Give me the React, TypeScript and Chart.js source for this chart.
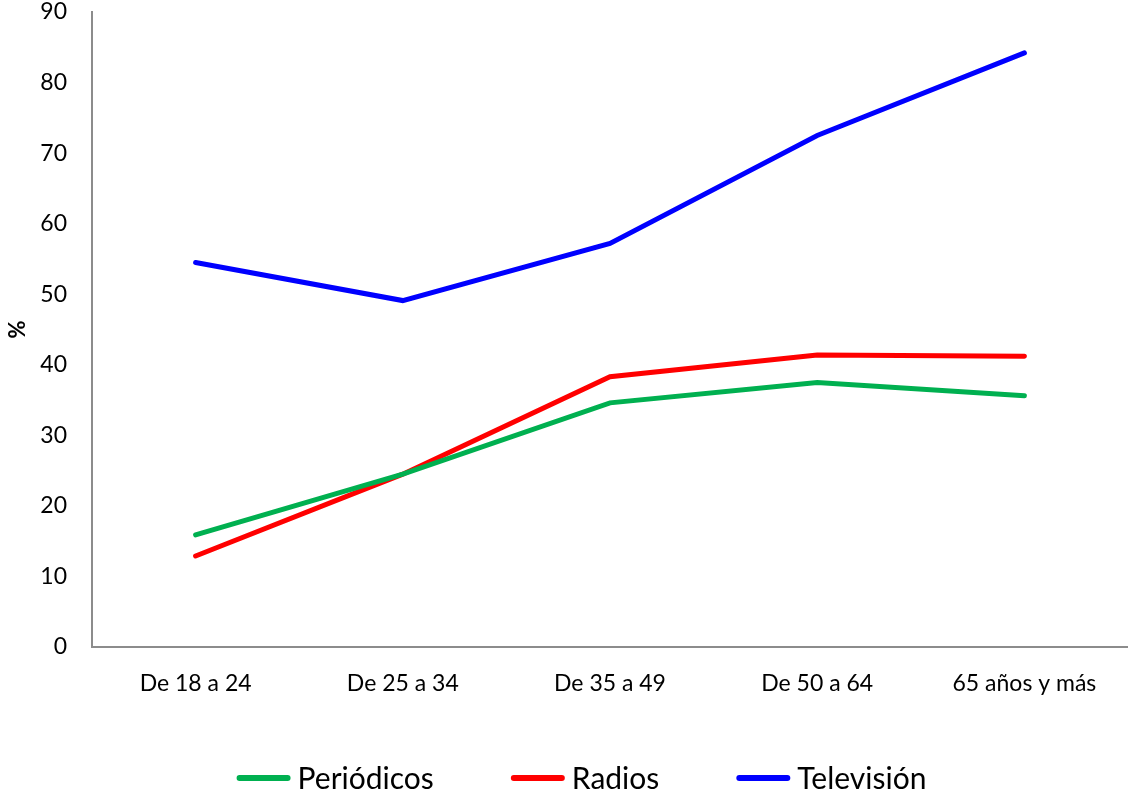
import React, { useEffect, useRef } from "react";
import { Chart, registerables } from "chart.js";

Chart.register(...registerables);

const categories = ["De 18 a 24", "De 25 a 34", "De 35 a 49", "De 50 a 64", "65 años y más"];
const periodicos = [15.9, 24.5, 34.6, 37.5, 35.6];
const radios = [12.9, 24.5, 38.3, 41.4, 41.2];
const television = [54.5, 49.1, 57.2, 72.5, 84.2];
const yTicks = [0, 10, 20, 30, 40, 50, 60, 70, 80, 90];

const FONT = "Lato, 'Open Sans', sans-serif";
const AXIS_GREY = "#8c8c8c";

const bottomLegend = {
  id: "bottomLegend",
  afterDraw(chart: any) {
    const ctx = chart.ctx as CanvasRenderingContext2D;
    const lineLen = 52;
    const textGap = 8;
    const itemGap = 78;
    ctx.save();
    ctx.font = `30px ${FONT}`;
    const items = chart.data.datasets.map((d: any) => ({
      text: d.label as string,
      color: d.borderColor as string,
      w: ctx.measureText(d.label).width,
    }));
    const total =
      items.reduce((a: number, it: any) => a + lineLen + textGap + it.w, 0) + itemGap * (items.length - 1);
    let x = chart.width / 2 + 18 - total / 2;
    const y = chart.chartArea.bottom + 131;
    ctx.textBaseline = "middle";
    ctx.textAlign = "left";
    for (const it of items) {
      ctx.beginPath();
      ctx.strokeStyle = it.color;
      ctx.lineWidth = 6;
      ctx.lineCap = "round";
      ctx.moveTo(x + 2, y);
      ctx.lineTo(x + lineLen - 2, y);
      ctx.stroke();
      ctx.fillStyle = "#000";
      ctx.fillText(it.text, x + lineLen + textGap, y + 1);
      x += lineLen + textGap + it.w + itemGap;
    }
    ctx.restore();
  },
};

export default function App() {
  const ref = useRef<HTMLCanvasElement | null>(null);
  useEffect(() => {
    if (!ref.current) return;
    const mk = (label: string, data: number[], color: string) => ({
      label,
      data,
      borderColor: color,
      backgroundColor: color,
      borderWidth: 5,
      borderCapStyle: "round" as const,
      borderJoinStyle: "miter" as const,
      pointRadius: 0,
      pointHoverRadius: 0,
      tension: 0,
      fill: false,
    });
    const chart = new Chart(ref.current, {
      type: "line",
      data: {
        labels: categories,
        datasets: [
          mk("Periódicos", periodicos, "#00B050"),
          mk("Radios", radios, "#FF0000"),
          mk("Televisión", television, "#0000FF"),
        ],
      },
      plugins: [bottomLegend],
      options: {
        animation: false,
        responsive: false,
        layout: { padding: { top: 12, right: 0, left: 0, bottom: 89 } },
        plugins: {
          tooltip: { enabled: false },
          legend: { display: false },
        },
        scales: {
          x: {
            offset: true,
            grid: { display: false, drawTicks: false },
            border: { display: true, color: AXIS_GREY, width: 2 },
            ticks: { color: "#000", font: { family: FONT, size: 23 }, padding: 23, maxRotation: 0 },
            afterFit: (s: any) => {
              s.height = 60;
            },
          },
          y: {
            min: 0,
            max: 90,
            afterBuildTicks: (s: any) => {
              s.ticks = yTicks.map((v) => ({ value: v }));
            },
            grid: { display: false, drawTicks: false },
            border: { display: true, color: AXIS_GREY, width: 2 },
            ticks: { color: "#000", font: { family: FONT, size: 23 }, padding: 25 },
            title: {
              display: true,
              text: "%",
              color: "#000",
              font: { family: FONT, size: 22, weight: "bold" },
              padding: 5,
            },
            afterFit: (s: any) => {
              s.width = 92;
              s.paddingTop = 0;
              s.paddingBottom = 0;
            },
          },
        },
      },
    });
    return () => chart.destroy();
  }, []);
  return (
    <div style={{ position: "absolute", left: 0, top: 0, width: 1128, height: 796, background: "#fff" }}>
      <canvas ref={ref} width={1128} height={796} style={{ display: "block" }} />
    </div>
  );
}
